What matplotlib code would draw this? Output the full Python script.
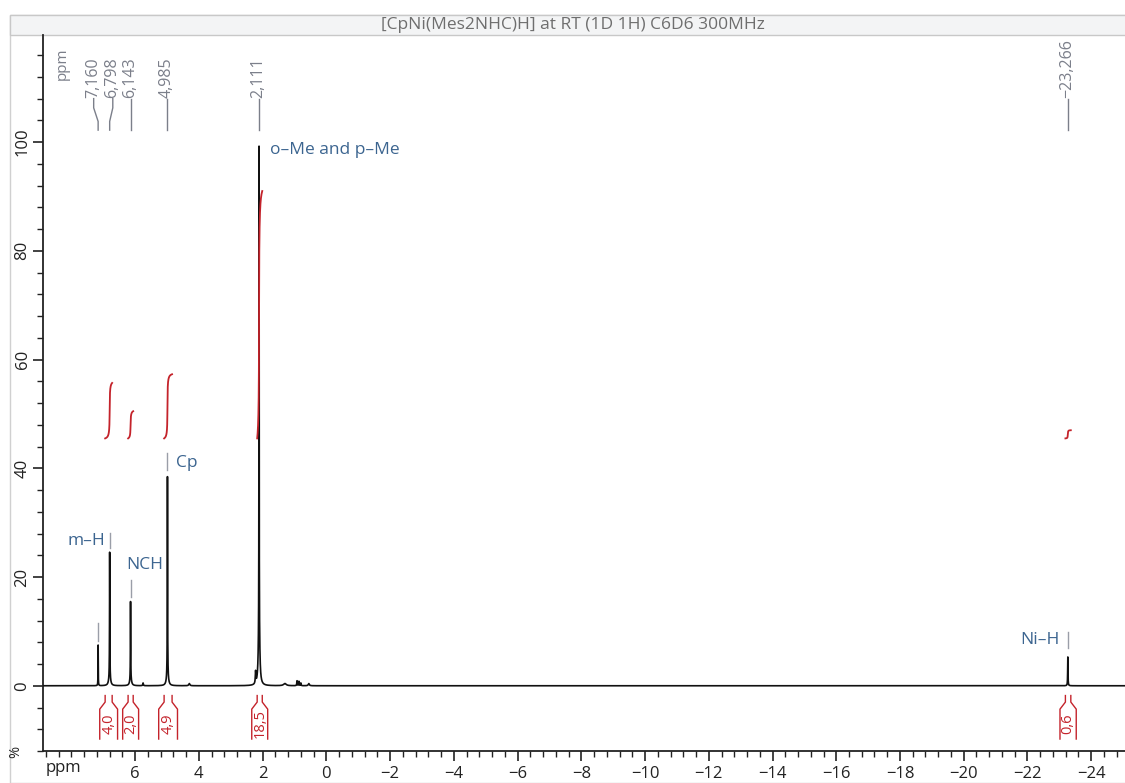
import numpy as np
import matplotlib
matplotlib.use("Agg")
import matplotlib.pyplot as plt
from matplotlib.ticker import MultipleLocator
from matplotlib.patches import Rectangle

plt.rcParams['font.family'] = ['Open Sans', 'DejaVu Sans']

TITLE = "[CpNi(Mes2NHC)H] at RT (1D 1H) C6D6 300MHz"

# peaks: position (ppm), height (%), half width (ppm)
peak_pos = [7.160, 6.798, 6.800, 6.143, 6.140, 4.985, 4.985, 2.111, 2.111, 2.220,
            5.75, 4.30, 1.30, 0.92, 0.86, 0.80, 0.55, -23.266]
peak_height = [7.5, 23.0, 1.6, 14.3, 1.2, 36.5, 2.0, 89.0, 10.5, 2.2,
               0.5, 0.4, 0.4, 0.9, 0.8, 0.5, 0.4, 5.3]
peak_width = [0.004, 0.005, 0.03, 0.005, 0.03, 0.005, 0.03, 0.004, 0.025, 0.01,
              0.01, 0.02, 0.05, 0.008, 0.008, 0.008, 0.02, 0.006]

# peak picking labels at the top
pick_values = ["7,160", "6,798", "6,143", "4,985", "2,111", "\u221223,266"]
pick_ppm = [7.160, 6.798, 6.143, 4.985, 2.111, -23.266]
pick_label_ppm = [7.30, 6.70, 6.143, 4.985, 2.111, -23.266]

# assignments
assign_text = ["m\u2013H", "NCH", "Cp", "o\u2013Me and p\u2013Me", "Ni\u2013H"]
assign_ppm = [6.95, 5.69, 4.72, 1.76, -23.02]
assign_y = [26.7, 22.2, 41.0, 98.6, 8.4]
assign_ha = ["right", "center", "left", "left", "right"]
marker_ppm = [7.160, 6.780, 6.143, 4.985, -23.266]
marker_lo = [8.3, 25.3, 16.3, 39.7, 6.9]
marker_hi = [11.5, 28.1, 19.4, 42.8, 9.8]

# integrals
int_values = ["4,0", "2,0", "4,9", "18,5", "0,6"]
int_from = [6.94, 6.22, 5.09, 2.17, -23.19]
int_to = [6.72, 6.06, 4.84, 2.01, -23.36]
int_top = [55.7, 50.5, 57.3, 91.0, 47.0]
int_base = 45.5

ppm = np.linspace(8.9, -25.1, 60000)
spec = np.zeros_like(ppm)
for p, h, w in zip(peak_pos, peak_height, peak_width):
    spec += h * w**2 / ((ppm - p)**2 + w**2)

fig = plt.figure(figsize=(11.25, 7.83), dpi=100)

# outer frame and title bar
fig.patches.append(Rectangle((10 / 1125, 0), 1.0, 1 - 15 / 783, transform=fig.transFigure,
                             facecolor="white", edgecolor="#d0d0d0", lw=1.0, zorder=-2))
fig.patches.append(Rectangle((10 / 1125, 1 - 35 / 783), 1.0, 20 / 783, transform=fig.transFigure,
                             facecolor="#f3f4f5", edgecolor="#c8c8c8", lw=1.0, zorder=-1))
fig.text(0.509, 1 - 25 / 783, TITLE, ha="center", va="center", fontsize=12.5, color="#6e6e6e")

ax = fig.add_axes([43 / 1125, 1 - 751 / 783, 1 - 43 / 1125, (751 - 35) / 783])
ax.set_zorder(2)
ax.patch.set_alpha(0)
ax.set_xlim(8.89, -25.06)
ax.set_ylim(-12, 119.7)

ax.plot(ppm, spec, color="#111111", lw=1.2, zorder=3)

# integral curves and brackets
red = "#c4232b"
for a, b, top, val in zip(int_from, int_to, int_top, int_values):
    m = (ppm <= a) & (ppm >= b)
    cum = np.cumsum(spec[m])
    cum = (cum - cum[0]) / (cum[-1] - cum[0])
    ax.plot(ppm[m], int_base + cum * (top - int_base), color=red, lw=1.3, zorder=4)
    d = 0.17
    ax.plot([a, a, a + d, a + d], [-1.8, -3.0, -4.3, -9.8], color=red, lw=1.0)
    ax.plot([b, b, b - d, b - d], [-1.8, -3.0, -4.3, -9.8], color=red, lw=1.0)
    ax.text((a + b) / 2, -6.9, val, rotation=90, ha="center", va="center",
            fontsize=10.5, color=red)

# peak picking
grey = "#7b7f8a"
for p, lp, val in zip(pick_ppm, pick_label_ppm, pick_values):
    ax.plot([p, p, lp, lp], [102.2, 103.8, 106.3, 108.0], color=grey, lw=1.0)
    ax.text(lp + 0.02, 108.2, val, rotation=90, ha="center", va="bottom",
            fontsize=11.5, color=grey)
ax.text(8.29, 114.5, "ppm", rotation=90, ha="center", va="center", fontsize=11, color=grey)

# assignments
blue = "#3c6590"
for t, x, y, ha in zip(assign_text, assign_ppm, assign_y, assign_ha):
    ax.text(x, y, t, ha=ha, va="center", fontsize=12.5, color=blue)
for x, lo, hi in zip(marker_ppm, marker_lo, marker_hi):
    ax.plot([x, x], [lo, hi], color="#9a9ea8", lw=1.0)

# axes styling
for s in ["top", "right"]:
    ax.spines[s].set_visible(False)
for s in ["left", "bottom"]:
    ax.spines[s].set_linewidth(1.3)
    ax.spines[s].set_color("#222222")

ax.xaxis.set_major_locator(MultipleLocator(2))
ax.xaxis.set_minor_locator(MultipleLocator(0.4))
ax.yaxis.set_major_locator(MultipleLocator(20))
ax.yaxis.set_minor_locator(MultipleLocator(4))
ax.set_yticks([0, 20, 40, 60, 80, 100])
ax.set_xticks(np.arange(6, -25, -2))
ax.set_xticklabels([str(v).replace("-", "\u2212") for v in range(6, -25, -2)])
ax.tick_params(axis="x", which="major", length=7.5, width=1.2, labelsize=12, pad=3,
               colors="#222222")
ax.tick_params(axis="x", which="minor", length=4, width=1.0, colors="#222222")
ax.tick_params(axis="y", which="major", length=7, width=1.2, labelsize=12, pad=2,
               colors="#222222")
ax.tick_params(axis="y", which="minor", length=4, width=1.0, colors="#222222")
for lab in ax.get_yticklabels():
    lab.set_rotation(90)
    lab.set_va("center")

fig.text(16 / 1125, 1 - 752 / 783, "%", rotation=90, ha="center", va="center",
         fontsize=10.5, color="#222222")
fig.text(63 / 1125, 1 - 768 / 783, "ppm", ha="center", va="center",
         fontsize=12, color="#222222")

fig.savefig("out.png", dpi=100)
